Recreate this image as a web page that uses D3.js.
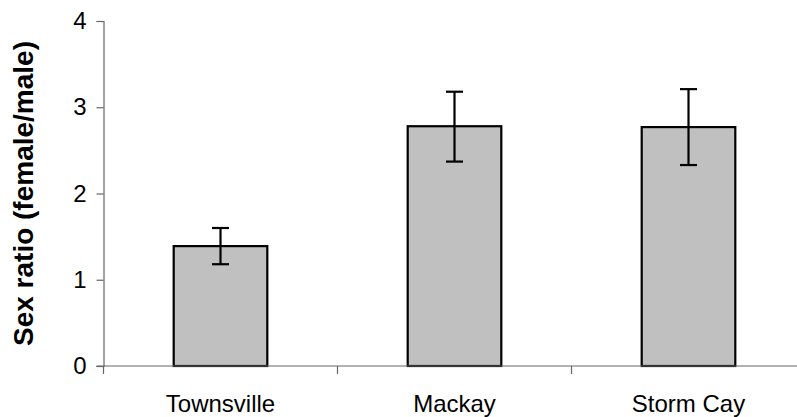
<!DOCTYPE html>
<html>
<head>
<meta charset="utf-8">
<script src="https://cdn.jsdelivr.net/npm/d3@7"></script>
<style>
  html, body { margin: 0; padding: 0; background: #fff; }
  svg { display: block; font-family: Arial, "Liberation Sans", sans-serif; }
</style>
</head>
<body>
<svg id="chart" width="797" height="417"></svg>
<script>
const categories = ["Townsville", "Mackay", "Storm Cay"];
const values = [1.39, 2.78, 2.77];
const errLow = [1.18, 2.37, 2.33];
const errHigh = [1.60, 3.18, 3.21];
const yTicks = [0, 1, 2, 3, 4];
const yTitle = "Sex ratio (female/male)";

const svg = d3.select("#chart");
const mLeft = 103.5, mRight = 805.5, mTop = 21, mBottom = 366;

const x = d3.scaleBand().domain(categories).range([mLeft, mRight])
  .paddingInner(0.6).paddingOuter(0.3);
const y = d3.scaleLinear().domain([0, 4]).range([mBottom, mTop]);

const axisColor = "#666";

// Y axis
const yAxis = svg.append("g").attr("transform", `translate(${mLeft},0)`)
  .call(d3.axisLeft(y).tickValues(yTicks).tickSize(7).tickPadding(10).tickFormat(d3.format("d")));
yAxis.select(".domain").attr("stroke", axisColor).attr("stroke-width", 1.2);
yAxis.selectAll(".tick line").attr("stroke", axisColor).attr("stroke-width", 1.2);
yAxis.selectAll(".tick text").attr("font-size", 24).attr("fill", "#000")
  .attr("font-family", "Arial, 'Liberation Sans', sans-serif");

// Bars
svg.append("g").selectAll("rect").data(categories).join("rect")
  .attr("x", d => x(d))
  .attr("y", (d, i) => y(values[i]))
  .attr("width", x.bandwidth())
  .attr("height", (d, i) => y(0) - y(values[i]))
  .attr("fill", "#c0c0c0")
  .attr("stroke", "#000")
  .attr("stroke-width", 2.2);

// X axis line and ticks
const boundaries = categories.map(d => x(d) - (x.step() - x.bandwidth()) / 2);
boundaries.push(mRight);
svg.append("line").attr("x1", mLeft - 7).attr("x2", mRight).attr("y1", y(0)).attr("y2", y(0))
  .attr("stroke", axisColor).attr("stroke-width", 1.2);
svg.append("g").selectAll("line").data(boundaries).join("line")
  .attr("x1", d => d).attr("x2", d => d)
  .attr("y1", y(0)).attr("y2", y(0) + 8)
  .attr("stroke", axisColor).attr("stroke-width", 1.2);

// X labels
svg.append("g").selectAll("text").data(categories).join("text")
  .attr("x", d => x(d) + x.bandwidth() / 2)
  .attr("y", 412)
  .attr("text-anchor", "middle")
  .attr("font-size", 24)
  .attr("fill", "#000")
  .text(d => d);

// Error bars
const cap = 8.5;
const eg = svg.append("g").attr("stroke", "#000").attr("stroke-width", 2.2);
categories.forEach((d, i) => {
  const cx = x(d) + x.bandwidth() / 2;
  eg.append("line").attr("x1", cx).attr("x2", cx).attr("y1", y(errLow[i])).attr("y2", y(errHigh[i]));
  eg.append("line").attr("x1", cx - cap).attr("x2", cx + cap).attr("y1", y(errLow[i])).attr("y2", y(errLow[i]));
  eg.append("line").attr("x1", cx - cap).attr("x2", cx + cap).attr("y1", y(errHigh[i])).attr("y2", y(errHigh[i]));
});

// Y title
svg.append("text")
  .attr("transform", `translate(33,${(mTop + mBottom) / 2}) rotate(-90)`)
  .attr("text-anchor", "middle")
  .attr("font-size", 28)
  .attr("font-weight", "bold")
  .attr("fill", "#000")
  .text(yTitle);
</script>
</body>
</html>
